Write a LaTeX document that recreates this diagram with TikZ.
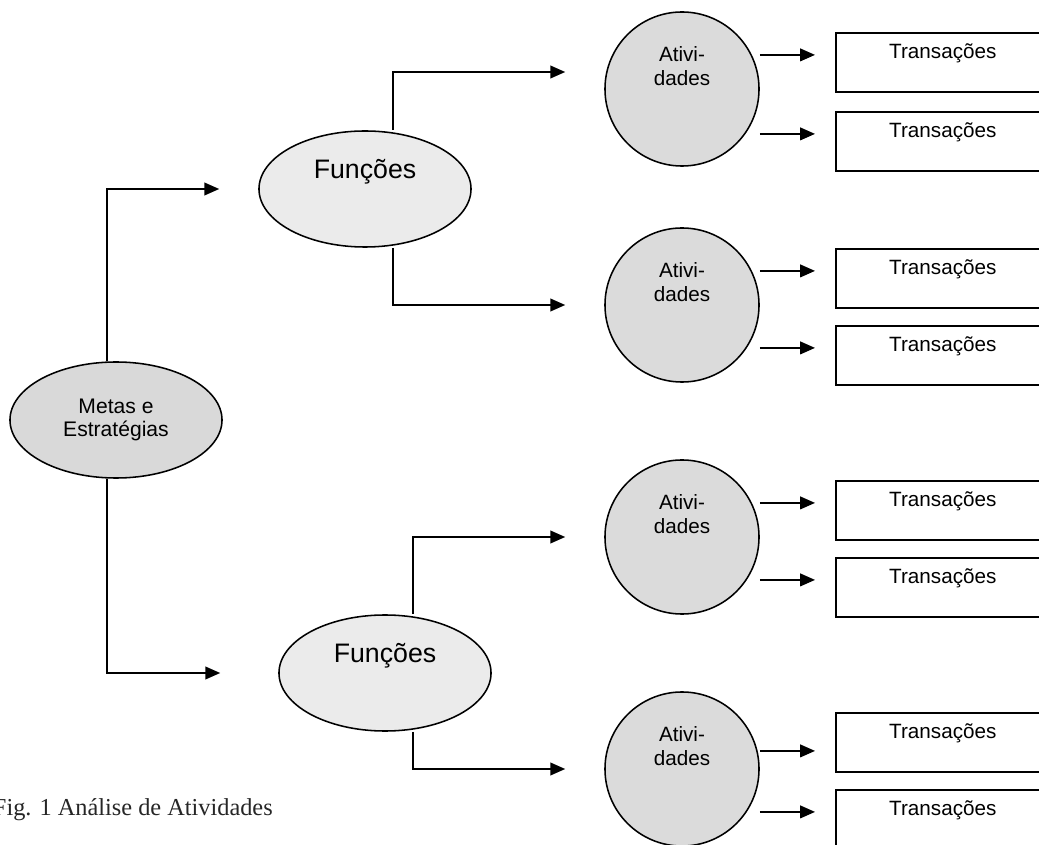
\documentclass[tikz,border=0pt]{standalone}
\usepackage{fontspec}
\setmainfont{Liberation Serif}
\setsansfont{Liberation Sans}
\usetikzlibrary{positioning, shapes.geometric, arrows.meta, calc}

\begin{document}
\begin{tikzpicture}[
			x=0.025cm, y=-0.025cm,
			goal/.style={ellipse, draw=black, fill=black!15, line width=1.1pt, minimum width=5.3cm, minimum height=2.9cm, inner sep=0pt, align=center, font=\sffamily\fontsize{15}{16.4}\selectfont},
			func/.style={ellipse, draw=black, fill=black!8, line width=1.1pt, minimum width=5.3cm, minimum height=2.9cm, inner sep=0pt, label={[font=\sffamily\fontsize{19}{22}\selectfont, yshift=0.425cm]center:Funções}},
			actv/.style={circle, draw=black, fill=black!14, line width=1.1pt, minimum size=3.85cm, inner sep=0pt, label={[font=\sffamily\fontsize{14.7}{17}\selectfont, align=center, yshift=0.575cm]center:Ativi-\\dades}},
			trans/.style={rectangle, draw=black, line width=1.1pt, anchor=north west, minimum width=5.35cm, inner xsep=0pt, inner ysep=0pt, text height=0.634cm, text depth=0.841cm, font=\sffamily\fontsize{14.7}{17}\selectfont},
			link/.style={-{Triangle[length=10.5pt, width=9pt]}, line width=1.1pt}
			]
			\useasboundingbox (0,0) rectangle (1039,845);
			
			\node[goal] (goal) at (116,420) {Metas e\\Estratégias};
			
			\node[func] (f1) at (365,189) {};
			\node[func] (f2) at (385,673) {};
			
			\node[actv] (a1) at (682,89) {};
			\node[actv] (a2) at (682,305) {};
			\node[actv] (a3) at (682,537) {};
			\node[actv] (a4) at (682,769) {};
			
			\node[trans] (t11) at (835,32) {Transações};
			\node[trans] (t12) at (835,111) {Transações};
			\node[trans] (t21) at (835,248) {Transações};
			\node[trans] (t22) at (835,325) {Transações};
			\node[trans] (t31) at (835,480) {Transações};
			\node[trans] (t32) at (835,557) {Transações};
			\node[trans] (t41) at (835,712) {Transações};
			\node[trans] (t42) at (835,789) {Transações};
			
			\node[font=\fontsize{17.3}{20}\selectfont, text=black!85, anchor=base east, inner sep=0pt] (caption) at (273,815) {Fig. 1 Análise de Atividades};
			
			% goals to functions
			\draw[link] ($(goal.north)+(-9,0)$) |- ($(f1.west)+(-39,0)$);
			\draw[link] ($(goal.south)+(-9,0)$) |- ($(f2.west)+(-58,0)$);
			
			% functions to activities
			\draw[link] ($(f1.north)+(28,0)$) |- ($(a1.west)+(-39,-17)$);
			\draw[link] ($(f1.south)+(28,0)$) |- ($(a2.west)+(-39,0)$);
			\draw[link] ($(f2.north)+(28,0)$) |- ($(a3.west)+(-39,0)$);
			\draw[link] ($(f2.south)+(28,0)$) |- ($(a4.west)+(-39,0)$);
			
			% activities to transactions
			\draw[link] (a1.east |- t11.mid west) -- ($(t11.mid west)+(-20,0)$);
			\draw[link] (a1.east |- t12.mid west) -- ($(t12.mid west)+(-20,0)$);
			\draw[link] (a2.east |- t21.mid west) -- ($(t21.mid west)+(-20,0)$);
			\draw[link] (a2.east |- t22.mid west) -- ($(t22.mid west)+(-20,0)$);
			\draw[link] (a3.east |- t31.mid west) -- ($(t31.mid west)+(-20,0)$);
			\draw[link] (a3.east |- t32.mid west) -- ($(t32.mid west)+(-20,0)$);
			\draw[link] ($(a4.east |- t41.mid west)+(0,16)$) -- ($(t41.mid west)+(-20,16)$);
			\draw[link] (a4.east |- t42.mid west) -- ($(t42.mid west)+(-20,0)$);
		\end{tikzpicture}
\end{document}
